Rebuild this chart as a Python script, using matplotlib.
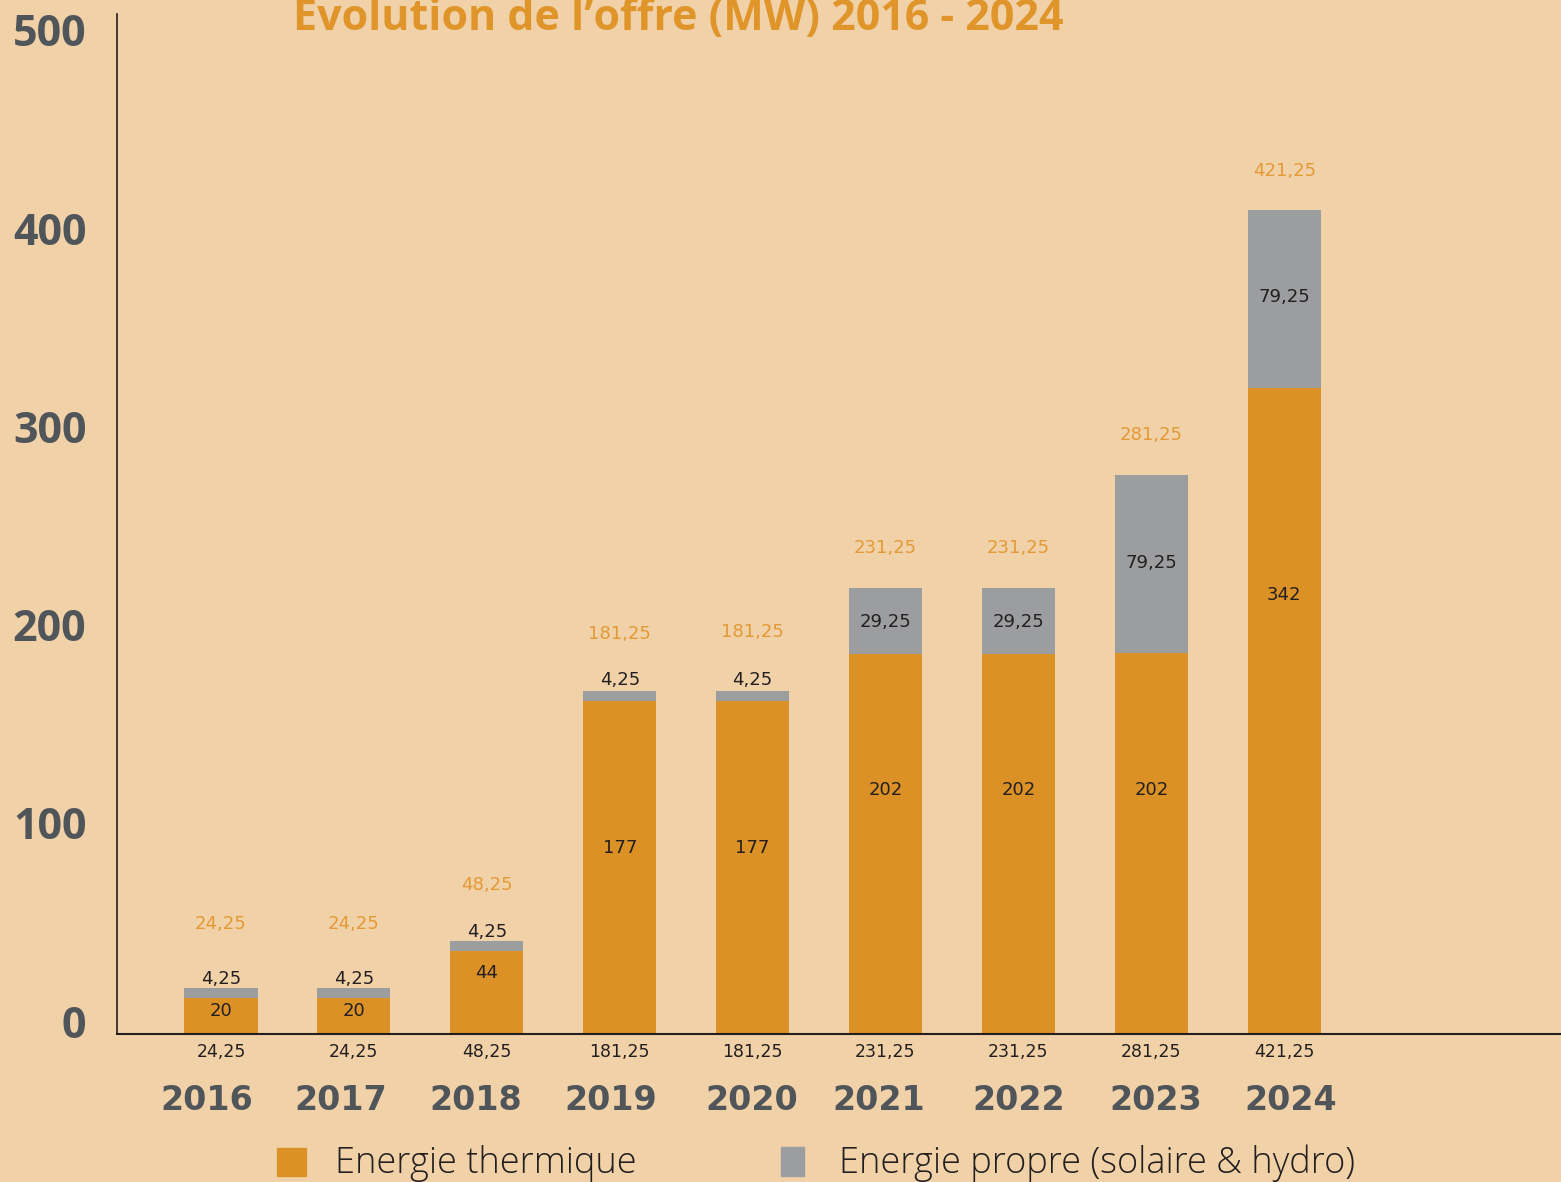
import numpy as np
import matplotlib.pyplot as plt
from matplotlib.patches import Rectangle
import matplotlib.transforms as mtransforms

# donnees (hauteurs, etiquettes telles qu'affichees)
annees = ["2016", "2017", "2018", "2019", "2020", "2021", "2022", "2023", "2024"]
thermique = [18.2, 18.2, 41.9, 168.0, 168.0, 191.7, 191.7, 192.2, 326.1]
propre = [5.0, 5.0, 5.0, 5.1, 5.1, 33.3, 33.3, 89.8, 89.6]
lab_thermique = ["20", "20", "44", "177", "177", "202", "202", "202", "342"]
lab_propre = ["4,25", "4,25", "4,25", "4,25", "4,25", "29,25", "29,25", "79,25", "79,25"]
lab_total = ["24,25", "24,25", "48,25", "181,25", "181,25", "231,25", "231,25", "281,25", "421,25"]
yticks = [0, 100, 200, 300, 400, 500]

fond = "#f1d1a8"
orange = "#dc9126"
gris = "#9c9d9f"
noir = "#231f20"
gris_txt = "#50555a"
orange_txt = "#e39a35"

W, H = 1561, 1182
fig = plt.figure(figsize=(W / 100, H / 100), dpi=100, facecolor=fond)

# axes en pixels
x0, x1, y_base, y_top = 117, 1561, 1034, 14
ax = fig.add_axes([x0 / W, (H - y_base) / H, (x1 - x0) / W, (y_base - y_top) / H])
ax.set_facecolor(fond)
pas = 132.9
cx0 = 221
ppu = 1.982  # pixels par unite
ax.set_xlim((x0 - cx0) / pas, (x1 - cx0) / pas)
ax.set_ylim(0, (y_base - y_top) / ppu)


def v(ypx):
    return (y_base - ypx) / ppu


x = np.arange(len(annees))
ax.bar(x, thermique, width=0.55, color=orange)
ax.bar(x, propre, width=0.55, bottom=thermique, color=gris)

for s in ["top", "right"]:
    ax.spines[s].set_visible(False)
ax.spines["left"].set_color(noir)
ax.spines["bottom"].set_color(noir)
ax.spines["left"].set_linewidth(1.2)
ax.spines["bottom"].set_linewidth(1.5)

ax.set_xticks([])
ax.set_yticks(yticks)
ax.set_yticklabels([str(t) for t in yticks], fontsize=31, fontweight="bold",
                   color=gris_txt, family="Open Sans")
ax.tick_params(axis="y", length=0, pad=22)
off = mtransforms.ScaledTranslation(0, 13 / 100, fig.dpi_scale_trans)
for lab in ax.get_yticklabels():
    lab.set_transform(lab.get_transform() + off)

# positions des etiquettes (pixels)
y_lab_th = [1011, 1011, 973, 848, 848, 790, 790, 790, 595]
y_lab_pr = [979, 979, 932, 680, 680, 622, 622, 563, 297]
y_lab_tot = [924, 924, 885, 634, 632, 548, 548, 435, 171]
dx_annee = [-14, -13, -11, -9, -1, -7, 0, 4, 6]

for i in range(len(annees)):
    ax.text(i, v(y_lab_th[i]), lab_thermique[i], ha="center", va="center",
            fontsize=13, color=noir, fontweight="medium")
    ax.text(i, v(y_lab_pr[i]), lab_propre[i], ha="center", va="center",
            fontsize=13, color=noir, fontweight="medium")
    ax.text(i, v(y_lab_tot[i]), lab_total[i], ha="center", va="center",
            fontsize=13, color=orange_txt)
    ax.text(i, v(1052), lab_total[i], ha="center", va="center",
            fontsize=12.5, color=noir, clip_on=False)
    ax.text(i + dx_annee[i] / pas, v(1100), annees[i], ha="center", va="center",
            fontsize=24, fontweight="bold", color=gris_txt, clip_on=False)

fig.text(293 / W, 1 - 30 / H, "Evolution de l\u2019offre (MW) 2016 - 2024",
         ha="left", va="baseline", fontsize=31, fontweight="bold",
         color="#e0952b", family="Open Sans")

# legende
fig.patches.append(Rectangle((277 / W, 1 - 1176 / H), 29 / W, 28 / H,
                             transform=fig.transFigure, color=orange))
fig.patches.append(Rectangle((781 / W, 1 - 1176 / H), 23 / W, 29 / H,
                             transform=fig.transFigure, color=gris))
fig.text(335 / W, 1 - 1163 / H, "Energie thermique", ha="left", va="center",
         fontsize=26, fontweight="light", color=noir, family="Open Sans")
fig.text(839 / W, 1 - 1163 / H, "Energie propre (solaire & hydro)", ha="left",
         va="center", fontsize=26, fontweight="light", color=noir, family="Open Sans")

fig.savefig("out.png", dpi=100, facecolor=fond)
